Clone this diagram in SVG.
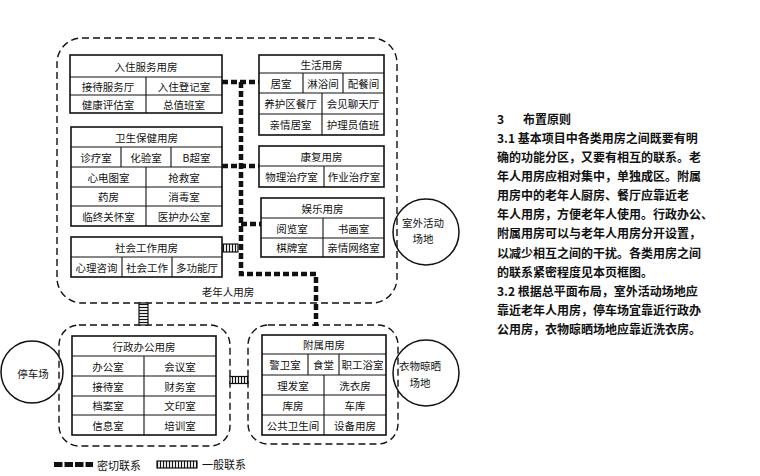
<svg xmlns="http://www.w3.org/2000/svg" width="760" height="476" viewBox="0 0 760 476">
<defs>
<style>
.t{font-family:"Noto Sans CJK SC","Noto Sans",sans-serif;font-size:10.5px;text-anchor:middle;dominant-baseline:central;fill:#111}
.p{font-family:"Noto Sans CJK SC","Noto Sans",sans-serif;font-size:12px;font-weight:bold;dominant-baseline:central;fill:#111}
.box{fill:#fff;stroke:#111;stroke-width:1.6}
.g{stroke:#111;stroke-width:1.1;fill:none}
.zone{fill:none;stroke:#111;stroke-width:1.4;stroke-dasharray:7 4}
.close{fill:none;stroke:#111;stroke-width:4.5;stroke-dasharray:6 3}
.circ{fill:none;stroke:#111;stroke-width:1.5}
</style>
<pattern id="vbars" width="3" height="10" patternUnits="userSpaceOnUse"><rect width="3" height="10" fill="#fff"/><line x1="1.5" y1="0" x2="1.5" y2="10" stroke="#111" stroke-width="1.2"/></pattern>
<pattern id="hbars" width="10" height="3" patternUnits="userSpaceOnUse"><rect width="10" height="3" fill="#fff"/><line x1="0" y1="1.5" x2="10" y2="1.5" stroke="#111" stroke-width="1.2"/></pattern>
</defs>
<rect width="760" height="476" fill="#fff"/>

<!-- zones -->
<g id="zone-elderly">
<rect class="zone" x="57" y="38" width="340" height="265" rx="25"/>
<text class="t" x="228" y="291">老年人用房</text>
</g>
<g id="zone-admin"><rect class="zone" x="59" y="325" width="171" height="121" rx="20"/></g>
<g id="zone-aux"><rect class="zone" x="248" y="325" width="150" height="119" rx="20"/></g>

<!-- connectors -->
<g id="connectors">
<path class="close" d="M222,82 H259"/>
<path class="close" d="M241,82 V274 H316 V326"/>
<path class="close" d="M222,166 H259"/>
<path class="close" d="M241,224 H261"/>
<rect x="223" y="244" width="15" height="8" fill="url(#vbars)" stroke="#111" stroke-width="1.2"/>
<rect x="139" y="303" width="9" height="22" fill="url(#hbars)" stroke="#111" stroke-width="1.2"/>
<rect x="230" y="376.5" width="18" height="7" fill="url(#vbars)" stroke="#111" stroke-width="1.2"/>
</g>

<!-- 入住服务用房 -->
<g id="n-ruzhu">
<rect class="box" x="70" y="55" width="152" height="58"/>
<path class="g" d="M70,77 H222 M70,95 H222 M146,77 V113"/>
<text class="t" x="146" y="66">入住服务用房</text>
<text class="t" x="108" y="86">接待服务厅</text>
<text class="t" x="184" y="86">入住登记室</text>
<text class="t" x="108" y="104">健康评估室</text>
<text class="t" x="184" y="104">总值班室</text>
</g>

<!-- 卫生保健用房 -->
<g id="n-weisheng">
<rect class="box" x="71" y="127" width="151" height="99"/>
<path class="g" d="M71,147 H222 M71,167 H222 M71,187 H222 M71,206 H222 M121,147 V167 M171,147 V167 M146,167 V226"/>
<text class="t" x="146.5" y="137">卫生保健用房</text>
<text class="t" x="96" y="157">诊疗室</text>
<text class="t" x="146" y="157">化验室</text>
<text class="t" x="196.5" y="157">B超室</text>
<text class="t" x="108.5" y="177">心电图室</text>
<text class="t" x="184" y="177">抢救室</text>
<text class="t" x="108.5" y="196.5">药房</text>
<text class="t" x="184" y="196.5">消毒室</text>
<text class="t" x="108.5" y="216">临终关怀室</text>
<text class="t" x="184" y="216">医护办公室</text>
</g>

<!-- 社会工作用房 -->
<g id="n-shehui">
<rect class="box" x="71" y="237" width="151" height="40"/>
<path class="g" d="M71,257 H222 M122,257 V277 M172,257 V277"/>
<text class="t" x="146.5" y="247">社会工作用房</text>
<text class="t" x="96.5" y="267">心理咨询</text>
<text class="t" x="147" y="267">社会工作</text>
<text class="t" x="197" y="267">多功能厅</text>
</g>

<!-- 生活用房 -->
<g id="n-shenghuo">
<rect class="box" x="259" y="55" width="125" height="80"/>
<path class="g" d="M259,73 H384 M259,93 H384 M259,114 H384 M303,73 V93 M343,73 V93 M322,93 V135"/>
<text class="t" x="321.5" y="64">生活用房</text>
<text class="t" x="281" y="83">居室</text>
<text class="t" x="323" y="83">淋浴间</text>
<text class="t" x="363.5" y="83">配餐间</text>
<text class="t" x="290.5" y="103.5">养护区餐厅</text>
<text class="t" x="353" y="103.5">会见聊天厅</text>
<text class="t" x="290.5" y="124.5">亲情居室</text>
<text class="t" x="353" y="124.5">护理员值班</text>
</g>

<!-- 康复用房 -->
<g id="n-kangfu">
<rect class="box" x="259" y="146" width="125" height="41"/>
<path class="g" d="M259,166 H384 M324,166 V187"/>
<text class="t" x="321.5" y="156">康复用房</text>
<text class="t" x="291.5" y="176.5">物理治疗室</text>
<text class="t" x="354" y="176.5">作业治疗室</text>
</g>

<!-- 娱乐用房 -->
<g id="n-yule">
<rect class="box" x="261" y="198" width="123" height="59"/>
<path class="g" d="M261,218 H384 M261,238 H384 M323,218 V257"/>
<text class="t" x="322.5" y="208">娱乐用房</text>
<text class="t" x="292" y="228">阅览室</text>
<text class="t" x="353.5" y="228">书画室</text>
<text class="t" x="292" y="247.5">棋牌室</text>
<text class="t" x="353.5" y="247.5">亲情网络室</text>
</g>

<!-- 室外活动场地 -->
<g id="n-outdoor">
<circle class="circ" cx="426" cy="232" r="33"/>
<text class="t" x="423" y="222">室外活动</text>
<text class="t" x="423" y="238">场地</text>
</g>

<!-- 行政办公用房 -->
<g id="n-xingzheng">
<rect class="box" x="72" y="336" width="144" height="99"/>
<path class="g" d="M72,356 H216 M72,376 H216 M72,396 H216 M72,415 H216 M144,356 V435"/>
<text class="t" x="144" y="346">行政办公用房</text>
<text class="t" x="108" y="366">办公室</text>
<text class="t" x="180" y="366">会议室</text>
<text class="t" x="108" y="386">接待室</text>
<text class="t" x="180" y="386">财务室</text>
<text class="t" x="108" y="405.5">档案室</text>
<text class="t" x="180" y="405.5">文印室</text>
<text class="t" x="108" y="425">信息室</text>
<text class="t" x="180" y="425">培训室</text>
</g>

<!-- 停车场 -->
<g id="n-parking">
<circle class="circ" cx="32" cy="372" r="31"/>
<text class="t" x="33" y="373">停车场</text>
</g>

<!-- 附属用房 -->
<g id="n-fushu">
<rect class="box" x="262" y="335" width="124" height="100"/>
<path class="g" d="M262,354 H386 M262,375 H386 M262,395 H386 M262,415 H386 M308,354 V375 M339,354 V375 M324,375 V435"/>
<text class="t" x="324" y="344.5">附属用房</text>
<text class="t" x="285" y="364.5">警卫室</text>
<text class="t" x="323.5" y="364.5">食堂</text>
<text class="t" x="362.5" y="364.5">职工浴室</text>
<text class="t" x="293" y="385">理发室</text>
<text class="t" x="355" y="385">洗衣房</text>
<text class="t" x="293" y="405">库房</text>
<text class="t" x="355" y="405">车库</text>
<text class="t" x="293" y="425">公共卫生间</text>
<text class="t" x="355" y="425">设备用房</text>
</g>

<!-- 衣物晾晒场地 -->
<g id="n-laundry">
<circle class="circ" cx="426" cy="373" r="33"/>
<text class="t" x="420" y="365">衣物晾晒</text>
<text class="t" x="420" y="382">场地</text>
</g>

<!-- legend -->
<g id="legend">
<line x1="54" y1="464.5" x2="93" y2="464.5" stroke="#111" stroke-width="5" stroke-dasharray="8.5 2"/>
<text class="t" x="119" y="465" style="font-size:11px">密切联系</text>
<rect x="157" y="461" width="40" height="7" fill="url(#vbars)" stroke="#111" stroke-width="1.2"/>
<text class="t" x="224" y="464" style="font-size:11px">一般联系</text>
</g>

<!-- text -->
<g id="notes">
<text class="p" x="497" y="118">3</text>
<text class="p" x="523" y="118">布置原则</text>
<text class="p" x="497" y="137.5">3.1 基本项目中各类用房之间既要有明</text>
<text class="p" x="497" y="156.5">确的功能分区，又要有相互的联系。老</text>
<text class="p" x="497" y="175.6">年人用房应相对集中，单独成区。附属</text>
<text class="p" x="497" y="194.7">用房中的老年人厨房、餐厅应靠近老</text>
<text class="p" x="497" y="213.8">年人用房，方便老年人使用。行政办公、</text>
<text class="p" x="497" y="232.9">附属用房可以与老年人用房分开设置，</text>
<text class="p" x="497" y="252">以减少相互之间的干扰。各类用房之间</text>
<text class="p" x="497" y="271">的联系紧密程度见本页框图。</text>
<text class="p" x="497" y="290">3.2 根据总平面布局，室外活动场地应</text>
<text class="p" x="497" y="309">靠近老年人用房，停车场宜靠近行政办</text>
<text class="p" x="497" y="328">公用房，衣物晾晒场地应靠近洗衣房。</text>
</g>
</svg>
